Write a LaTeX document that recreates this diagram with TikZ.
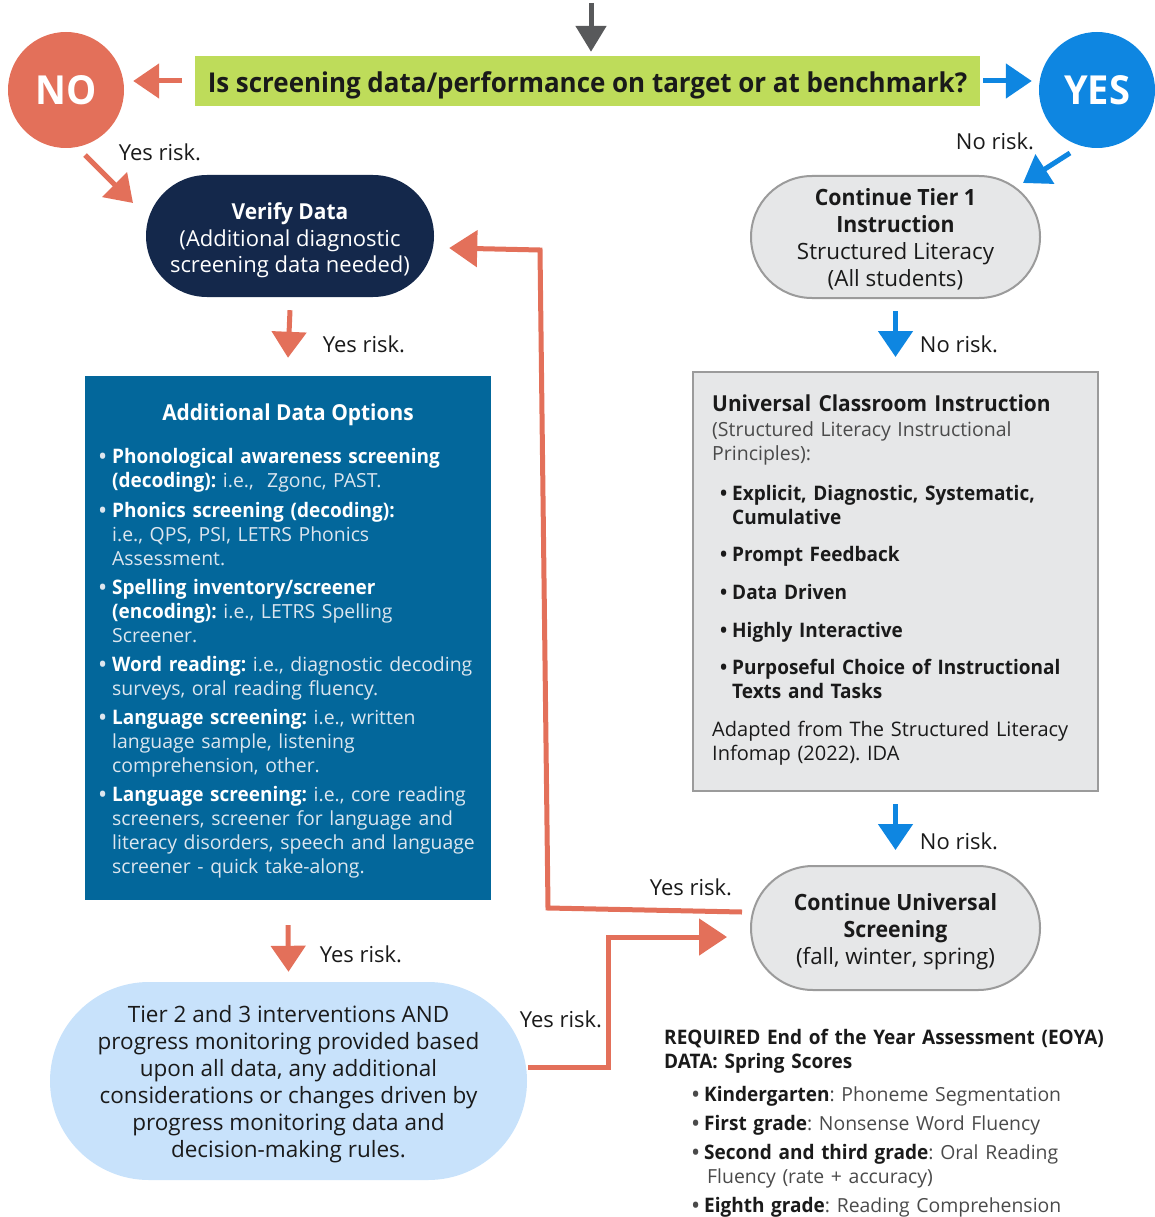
\documentclass[tikz,border=0pt]{standalone}
\usepackage{fontspec}
\setmainfont{Open Sans}[BoldFeatures={FakeStretch=0.95}]
\usetikzlibrary{arrows.meta}
\definecolor{salmon}{HTML}{E3705A}
\definecolor{blueA}{HTML}{0E86E1}
\definecolor{navy}{HTML}{14284B}
\definecolor{adoblue}{HTML}{03679B}
\definecolor{lightblue}{HTML}{C8E2FB}
\definecolor{grayfill}{HTML}{E6E7E8}
\definecolor{grayline}{HTML}{9B9B9B}
\definecolor{limegreen}{HTML}{BEDC5A}
\definecolor{darkgray}{HTML}{58595B}
\definecolor{adolight}{HTML}{DCE6EF}
\definecolor{txt}{HTML}{1A1A1A}
\definecolor{softtxt}{HTML}{4A4A4A}
\newcommand{\bitem}[3][13pt]{\makebox[#1][l]{\textbf{\textbullet}}\parbox[t]{420pt}{\raggedright\textbf{#2}#3}}
\newcommand{\lighttext}{\fontsize{19.4}{24}\selectfont}
\begin{document}
\frenchspacing
\begin{tikzpicture}[x=1pt,y=-1pt,
  sarrow/.style={draw=salmon, line width=5pt, -{Triangle[length=26pt,width=34pt]}},
  barrow/.style={draw=blueA, line width=5pt, -{Triangle[length=26pt,width=34pt]}},
  garrow/.style={draw=darkgray, line width=5pt, -{Triangle[length=26pt,width=30pt]}},
  sline/.style={draw=salmon, line width=5pt, -{Triangle[length=28pt,width=36pt]}},
  stad/.style={rectangle, inner sep=0pt},
  stadtxt/.style={inner sep=0pt, align=center, text=txt, font=\fontsize{22.4}{27}\selectfont},
  circ/.style={circle, inner sep=0pt, text=white, minimum size=116pt, font=\fontsize{40}{44}\selectfont\bfseries},
  lbl/.style={inner sep=0pt, text=txt, font=\fontsize{22}{26}\selectfont},
  item/.style={anchor=base west, inner sep=0pt, text width=460pt, align=left, font=\fontsize{20}{24}\selectfont},
]
\useasboundingbox (0,0) rectangle (1154,1217);

% main shapes
\node[rectangle, fill=limegreen, minimum width=785pt, minimum height=50pt, inner sep=0pt] (q) at (587.5,81) {};
\node[inner sep=0pt, text=txt, font=\fontsize{27.3}{30}\selectfont\bfseries] (qt) at ([yshift=-4pt]q.center) {Is screening data/performance on target or at benchmark?};
\node[circ, fill=salmon] (no) at (66,90) {NO};
\node[circ, fill=blueA] (yes) at (1097,90) {YES};

\node[stad, fill=navy, rounded corners=61pt, minimum width=288pt, minimum height=122pt] (verify) at (290,236) {};
\node[stadtxt, text=white, font=\fontsize{22}{26.5}\selectfont] (verifyt) at ([yshift=-4.5pt]verify.center)
  {\textbf{Verify Data}\\(Additional diagnostic\\screening data needed)};

\node[stad, fill=grayfill, draw=grayline, line width=2pt, rounded corners=61pt, minimum width=289pt, minimum height=122pt] (tier1) at (895.5,237) {};
\node[stadtxt] (tier1t) at ([yshift=-2pt]tier1.center)
  {\textbf{Continue Tier 1}\\\textbf{Instruction}\\Structured Literacy\\(All students)};

\node[rectangle, fill=adoblue, minimum width=406pt, minimum height=524pt, inner sep=0pt] (ado) at (288,638) {};
\node[rectangle, fill=grayfill, draw=grayline, line width=2pt, minimum width=405pt, minimum height=419pt, inner sep=0pt] (uci) at (895.5,581.5) {};

\node[stad, fill=grayfill, draw=grayline, line width=2pt, rounded corners=62pt, minimum width=289pt, minimum height=124pt] (cus) at (895.5,928) {};
\node[stadtxt] (cust) at ([yshift=-4pt]cus.center)
  {\textbf{Continue Universal}\\\textbf{Screening}\\(fall, winter, spring)};

\node[stad, fill=lightblue, rounded corners=99pt, minimum width=477pt, minimum height=198pt] (tier23) at (288.5,1081) {};
\node[stadtxt, font=\fontsize{22.5}{27}\selectfont] (tier23t) at ([yshift=-3pt]tier23.center)
  {Tier 2 and 3 interventions AND\\progress monitoring provided based\\upon all data, any additional\\considerations or changes driven by\\progress monitoring data and\\decision-making rules.};

% Additional Data Options content
\node[inner sep=0pt, text=white, font=\fontsize{22}{26}\selectfont\bfseries] (adot) at (288,415) {Additional Data Options};
\node[item, text=adolight] (a1) at (99,463) {\bitem{\color{white}Phonological awareness screening\newline(decoding):}{\lighttext{} i.e.,\ \ Zgonc, PAST.}};
\node[item, text=adolight] (a2) at (99,517) {\bitem{\color{white}Phonics screening (decoding):}{\lighttext\newline i.e., QPS, PSI, LETRS Phonics\newline Assessment.}};
\node[item, text=adolight] (a3) at (99,594) {\bitem{\color{white}Spelling inventory/screener\newline(encoding):}{\lighttext{} i.e., LETRS Spelling\newline Screener.}};
\node[item, text=adolight] (a4) at (99,671) {\bitem{\color{white}Word reading:}{\lighttext{} i.e., diagnostic decoding\newline surveys, oral reading fluency.}};
\node[item, text=adolight] (a5) at (99,724) {\bitem{\color{white}Language screening:}{\lighttext{} i.e., written\newline language sample, listening\newline comprehension, other.}};
\node[item, text=adolight] (a6) at (99,801) {\bitem{\color{white}Language screening:}{\lighttext{} i.e., core reading\newline screeners, screener for language and\newline literacy disorders, speech and language\newline screener - quick take-along.}};

% Universal Classroom Instruction content
\node[item, text=txt, font=\fontsize{22}{26}\selectfont\bfseries] (ut) at (712,411) {Universal Classroom Instruction};
\node[item, text=softtxt, font=\fontsize{19.5}{24}\selectfont] (us) at (712,436) {(Structured Literacy Instructional\newline Principles):};
\node[item, text=txt] (u1) at (720,500) {\bitem[12pt]{Explicit, Diagnostic, Systematic,\newline Cumulative}{}};
\node[item, text=txt] (u2) at (720,561) {\bitem[12pt]{Prompt Feedback}{}};
\node[item, text=txt] (u3) at (720,599) {\bitem[12pt]{Data Driven}{}};
\node[item, text=txt] (u4) at (720,637) {\bitem[12pt]{Highly Interactive}{}};
\node[item, text=txt] (u5) at (720,674) {\bitem[12pt]{Purposeful Choice of Instructional\newline Texts and Tasks}{}};
\node[item, text=txt] (ua) at (712,736) {Adapted from The Structured Literacy\newline Infomap (2022). IDA};

% EOYA
\node[item, text=txt, font=\fontsize{20}{24}\selectfont\bfseries] (eoya) at (664,1044) {REQUIRED End of the Year Assessment (EOYA)\newline DATA: Spring Scores};
\node[item, text=softtxt] (e1) at (692,1101) {\bitem[12pt]{\color{txt}Kindergarten}{\lighttext: Phoneme Segmentation}};
\node[item, text=softtxt] (e2) at (692,1130) {\bitem[12pt]{\color{txt}First grade}{\lighttext: Nonsense Word Fluency}};
\node[item, text=softtxt] (e3) at (692,1159) {\bitem[12pt]{\color{txt}Second and third grade}{\lighttext: Oral Reading\newline\hspace*{3pt}Fluency (rate + accuracy)}};
\node[item, text=softtxt] (e4) at (692,1212) {\bitem[12pt]{\color{txt}Eighth grade}{\lighttext: Reading Comprehension}};

% labels
\node[lbl] (l1) at (160,152) {Yes risk.};
\node[lbl] (l2) at (995,141) {No risk.};
\node[lbl] (l3) at (364,344) {Yes risk.};
\node[lbl] (l4) at (959,344) {No risk.};
\node[lbl] (l5) at (959,841) {No risk.};
\node[lbl] (l6) at (691,887) {Yes risk.};
\node[lbl] (l7) at (361,954) {Yes risk.};
\node[lbl] (l8) at (561,1019) {Yes risk.};

% connectors
\coordinate (top) at (591,3);
\draw[garrow, shorten >=4pt] (top) -- (top |- q.north);
\draw[sarrow, shorten <=13pt, shorten >=9pt] (q.west) -- (q.west -| no.east);
\draw[barrow, shorten <=3pt, shorten >=7pt] (q.east) -- (q.east -| yes.west);
\coordinate (d1s) at (85,155);
\coordinate (d1e) at (133,203);
\draw[sarrow] (d1s) -- (d1e);
\coordinate (d2s) at (1070,153);
\coordinate (d2e) at (1023,183);
\draw[barrow] (d2s) -- (d2e);
\draw[sarrow] ([yshift=-13pt]verify.south) -- ([yshift=18pt]ado.north);
\draw[sarrow] ([yshift=-25pt]ado.south) -- ([yshift=10pt]tier23.north);
\draw[barrow] ([yshift=-12pt]tier1.south) -- ([yshift=14pt]uci.north);
\draw[barrow] ([yshift=-12pt]uci.south) -- ([yshift=15pt]cus.north);
\draw[sline] ([xshift=-8pt,yshift=16pt]cus.west) -- (548,908) -- (540,250) -- ([xshift=15pt,yshift=-12pt]verify.east);
\draw[sline] ([xshift=1pt,yshift=14pt]tier23.east) -- (608,1067) -- (608,937) -- ([xshift=-23pt,yshift=-9pt]cus.west);
\end{tikzpicture}
\end{document}
